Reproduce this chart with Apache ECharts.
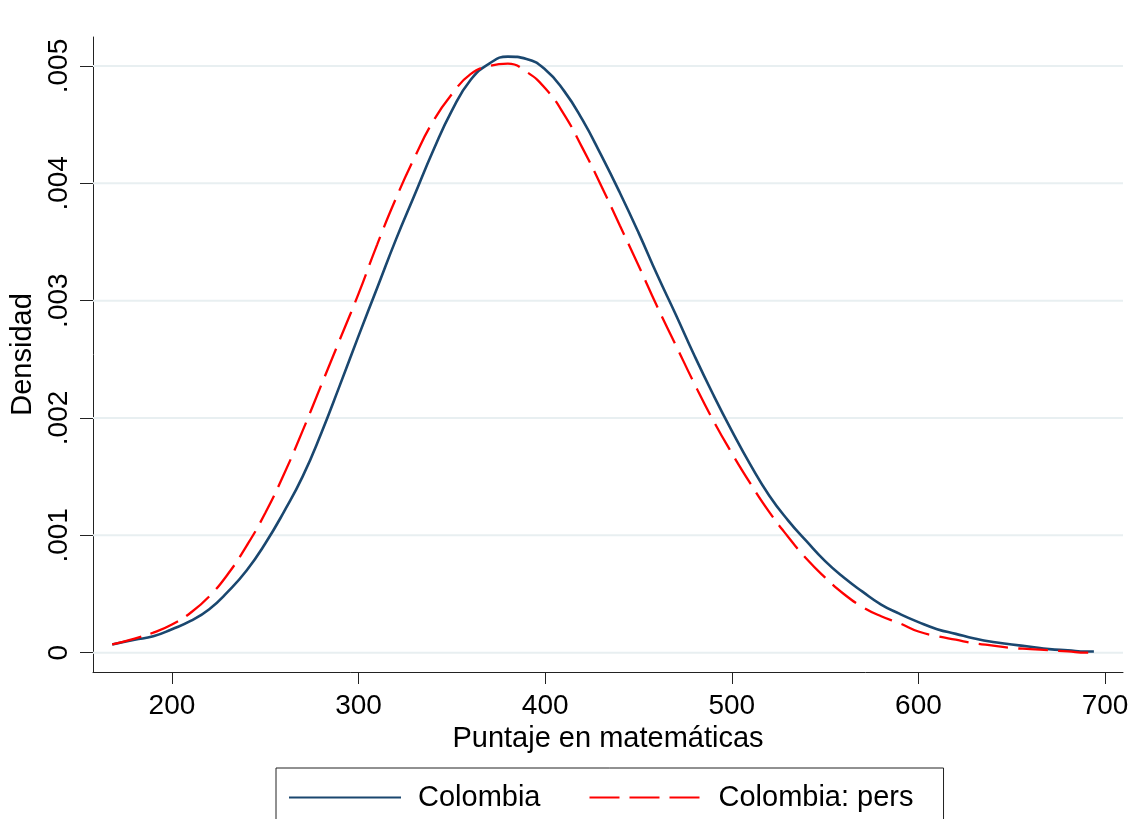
<!DOCTYPE html>
<html>
<head>
<meta charset="utf-8">
<style>
html,body{margin:0;padding:0;background:#fff;}
#chart{width:1132px;height:819px;}
</style>
<script src="https://cdn.jsdelivr.net/npm/echarts@6/dist/echarts.min.js"></script>
</head>
<body>
<div id="chart"></div>
<script>
// ---- data ----
const scoreX = [168,180,190,200,210,220,230,240,250,260,270,280,290,300,310,320,330,340,350,360,370,380,390,400,410,420,430,440,450,460,470,480,490,500,510,520,530,540,550,560,570,580,590,600,610,620,630,640,650,660,670,680,690,694];
const colombia = [0.00007,0.00011,0.00014,0.00020,0.00027,0.00037,0.00052,0.00070,0.00093,0.00120,0.00150,0.00187,0.00228,0.00270,0.00311,0.00352,0.00390,0.00428,0.00462,0.00488,0.00502,0.00508,0.00506,0.00497,0.00479,0.00454,0.00424,0.00392,0.00358,0.00322,0.00288,0.00253,0.00220,0.00189,0.00160,0.00134,0.00113,0.00095,0.00078,0.00064,0.00052,0.00041,0.00033,0.00026,0.00020,0.00016,0.00012,0.00009,0.00007,0.00005,0.00003,0.00002,0.00001,0.00001];
const colombiaPers = [0.00007,0.00012,0.00017,0.00024,0.00034,0.00048,0.00067,0.00091,0.00119,0.00152,0.00189,0.00228,0.00267,0.00306,0.00348,0.00387,0.00422,0.00453,0.00476,0.00493,0.00500,0.00502,0.00495,0.00481,0.00459,0.00430,0.00398,0.00364,0.00330,0.00295,0.00262,0.00229,0.00198,0.00170,0.00144,0.00120,0.00099,0.00080,0.00064,0.00050,0.00039,0.00031,0.00025,0.00018,0.00014,0.00011,0.00008,0.00006,0.00004,0.00003,0.00002,0.00001,0.00000,0.00000];
const xTicks = [200,300,400,500,600,700];
const yTicks = [0,0.001,0.002,0.003,0.004,0.005];
const yTickLabels = ['0','.001','.002','.003','.004','.005'];
const seriesNames = ['Colombia','Colombia: pers'];
const xRange = [157.7, 709.6];
const yRange = [-0.000165, 0.005247];

const FONT = "'Liberation Sans', Arial, sans-serif";
const chart = echarts.init(document.getElementById('chart'), null, {renderer:'canvas'});

function pairs(ys){ return scoreX.map((x,i)=>[x, ys[i]]); }

const gridSeries = yTicks.map(v => ({
  name:'grid'+v, type:'line', data:[[xRange[0], v],[xRange[1], v]], z:1, silent:true,
  symbol:'none', showSymbol:false, lineStyle:{color:'#e8eff1', width:2}
}));

const option = {
  animation:false,
  backgroundColor:'#fff',
  grid:{left:93, right:9, top:37, bottom:147, containLabel:false, outerBoundsMode:'none'},
  xAxis:{
    type:'value', min:xRange[0], max:xRange[1],
    name:'Puntaje en matemáticas', nameLocation:'middle', nameGap:50,
    nameTextStyle:{fontFamily:FONT, fontSize:29, color:'#000'},
    axisLine:{onZero:false, lineStyle:{color:'#222', width:1}},
    axisTick:{show:true, length:12, customValues:xTicks, lineStyle:{color:'#222', width:1}},
    axisLabel:{customValues:xTicks, fontFamily:FONT, fontSize:28, color:'#000', margin:20},
    splitLine:{show:false}
  },
  yAxis:{
    type:'value', min:yRange[0], max:yRange[1],
    name:'Densidad', nameLocation:'middle', nameGap:51, nameRotate:90,
    nameTextStyle:{fontFamily:FONT, fontSize:29, color:'#000'},
    axisLine:{show:true, onZero:false, lineStyle:{color:'#222', width:1}},
    axisTick:{show:true, length:13, customValues:yTicks, lineStyle:{color:'#222', width:1}},
    axisLabel:{customValues:yTicks, rotate:90, fontFamily:FONT, fontSize:28, color:'#000', margin:20,
      formatter:function(v){ const i = yTicks.findIndex(t=>Math.abs(t-v)<1e-9); return i>=0 ? yTickLabels[i] : ''; }},
    splitLine:{show:false}
  },
  legend:{
    data:seriesNames,
    left:276, top:768,
    padding:[15,30,40,12],
    borderColor:'#222', borderWidth:1,
    itemWidth:112, itemHeight:28, itemGap:48,
    itemStyle:{opacity:0},
    textStyle:{fontFamily:FONT, fontSize:29, color:'#000', padding:[0,0,0,12]}
  },
  series:gridSeries.concat([
    {
      name:seriesNames[0], type:'line', data:pairs(colombia), z:3,
      smooth:0.5, symbol:'none', showSymbol:false,
      lineStyle:{color:'#1a476f', width:2.6},
      itemStyle:{color:'#1a476f'}
    },
    {
      name:seriesNames[1], type:'line', data:pairs(colombiaPers), z:4,
      smooth:0.5, symbol:'none', showSymbol:false,
      lineStyle:{color:'#ff0000', width:2.3, type:[30,10]},
      itemStyle:{color:'#ff0000'}
    }
  ])
};
chart.setOption(option);
</script>
</body>
</html>
